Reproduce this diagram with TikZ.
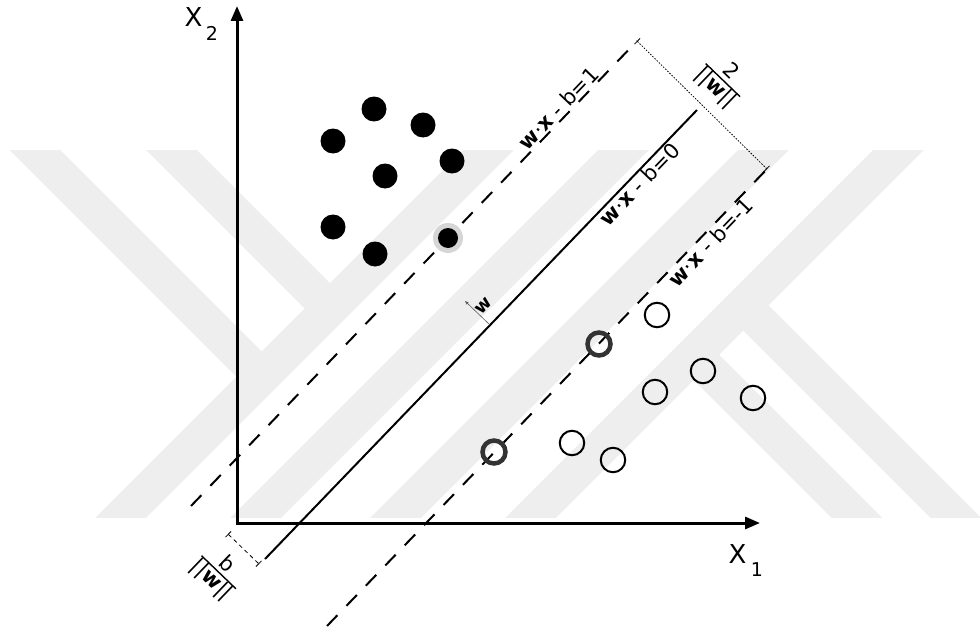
\documentclass[tikz,border=0pt]{standalone}
\usepackage{fontspec}
\setmainfont{DejaVu Sans}
\usetikzlibrary{arrows.meta,calc}
\definecolor{wmgray}{gray}{0.935}
\definecolor{ringgray}{gray}{0.2}
\definecolor{halogray}{gray}{0.84}
\setlength{\arrayrulewidth}{1.4pt}
\tikzset{
  stripe/.style={draw=wmgray, line width=36pt},
  axis/.style={line width=3pt, line join=miter,
    {Triangle[length=15pt,width=12pt]}-{Triangle[length=15pt,width=12pt]}},
  hyper/.style={line width=2pt},
  margin/.style={line width=2pt, dash pattern=on 15pt off 13pt},
  measure/.style={line width=0.8pt, {Bar[width=8pt]}-{Bar[width=8pt]}},
  dotA/.style={circle, fill=black, inner sep=0pt, minimum size=25pt},
  halo/.style={circle, fill=halogray, inner sep=0pt, minimum size=30pt},
  ringB/.style={circle, draw=black, line width=2pt, inner sep=0pt, minimum size=24.5pt},
  ringS/.style={circle, draw=ringgray, line width=4.5pt, inner sep=0pt, minimum size=23pt},
  eqlabel/.style={font=\fontsize{21}{21}\selectfont, sloped, inner sep=1pt},
  fraclabel/.style={font=\fontsize{21}{21}\selectfont, inner sep=0pt, rotate=-43.9},
  axlabel/.style={font=\fontsize{26}{26}\selectfont, inner sep=0pt, anchor=base},
  sublabel/.style={font=\fontsize{19}{19}\selectfont, inner sep=0pt, anchor=base}
}
\begin{document}
\begin{tikzpicture}[x=1pt, y=-1pt]
\useasboundingbox (0,0) rectangle (980,642);
% watermark
\begin{scope}
  \clip (0,150) rectangle (980,517);
  \draw[stripe] (5,120) -- (261.75,376.75);
  \draw[stripe] (141.5,120) -- (330,308.5);
  \draw[stripe] (518.5,120) -- (91.5,547);
  \draw[stripe] (653.5,120) -- (226.5,547);
  \draw[stripe] (793.5,120) -- (366.5,547);
  \draw[stripe] (928.5,120) -- (501.5,547);
  \draw[stripe] (985,547) -- (743.25,305.25);
  \draw[stripe] (886,547) -- (693.75,354.75);
\end{scope}

% axes
\coordinate (O) at (237,523);
\coordinate (ytip) at (237,6);
\coordinate (xtip) at (760,523);
\draw[axis] (ytip) -- (O) -- (xtip);
\node[axlabel] (x2lab) at (193.5,27) {X};
\node[sublabel] (x2sub) at (212,41) {2};
\node[axlabel] (x1lab) at (737.5,563) {X};
\node[sublabel] (x1sub) at (757,576) {1};

% hyperplanes
\coordinate (hpA1) at (191,506);
\coordinate (hpA2) at (637,41);
\coordinate (hp01) at (265,559);
\coordinate (hp02) at (697,110);
\coordinate (hpB1) at (327,626);
\coordinate (hpB2) at (767,169);

\node[halo] (svA) at (448,238) {};
\draw[margin] (hpA1) -- (hpA2)
  node[eqlabel, pos=.84, above] (eqA) {{\bfseries w}·{\bfseries x} - b=1};
\draw[hyper] (hp01) -- (hp02)
  node[eqlabel, pos=.85, below] (eq0) {{\bfseries w}·{\bfseries x} - b=0};
\draw[margin] (hpB1) -- (hpB2)
  node[eqlabel, pos=.855, below] (eqB) {{\bfseries w}·{\bfseries x} - b=-1};

% margin width
\draw[measure, dash pattern=on 1.5pt off 1.5pt] (hpA2) -- (hpB2);
\node[fraclabel] (marginlab) at (722,81)
  {\begin{tabular}{@{}c@{}}2\\[-2pt]\hline ||\textbf{w}||\end{tabular}};

% offset b
\coordinate (bm1) at (228,534);
\coordinate (bm2) at (259,564);
\draw[measure, dash pattern=on 4pt off 3.5pt] (bm1) -- (bm2);
\node[fraclabel] (offsetlab) at (218,573)
  {\begin{tabular}{@{}c@{}}b\\[-2pt]\hline ||\textbf{w}||\end{tabular}};

% normal vector
\coordinate (wbase) at (490,325);
\coordinate (wtip) at ($(wbase)+(-25,-24)$);
\draw[line width=0.6pt, gray!70!black, -{Stealth[length=4pt,width=3pt]}] (wbase) -- (wtip);
\node[font=\fontsize{18}{18}\selectfont\bfseries, rotate=46.1, anchor=west, inner sep=1pt]
  (wlab) at ($(wbase)!0.5!(wtip)$) {w};

% class one
\foreach \p [count=\i] in {(333,141),(374,109),(423,125),(452,161),(385,176),(333,227),(375,254)}
  \node[dotA] (a\i) at \p {};
\node[dotA, minimum size=20pt] (sAdot) at (svA) {};

% class two
\foreach \p [count=\i] in {(657,315),(703,371),(655,392),(753,398),(572,443),(613,460)}
  \node[ringB] (b\i) at \p {};
\node[ringS] (svB1) at (599,344) {};
\node[ringS] (svB2) at (494,452) {};
\end{tikzpicture}
\end{document}
